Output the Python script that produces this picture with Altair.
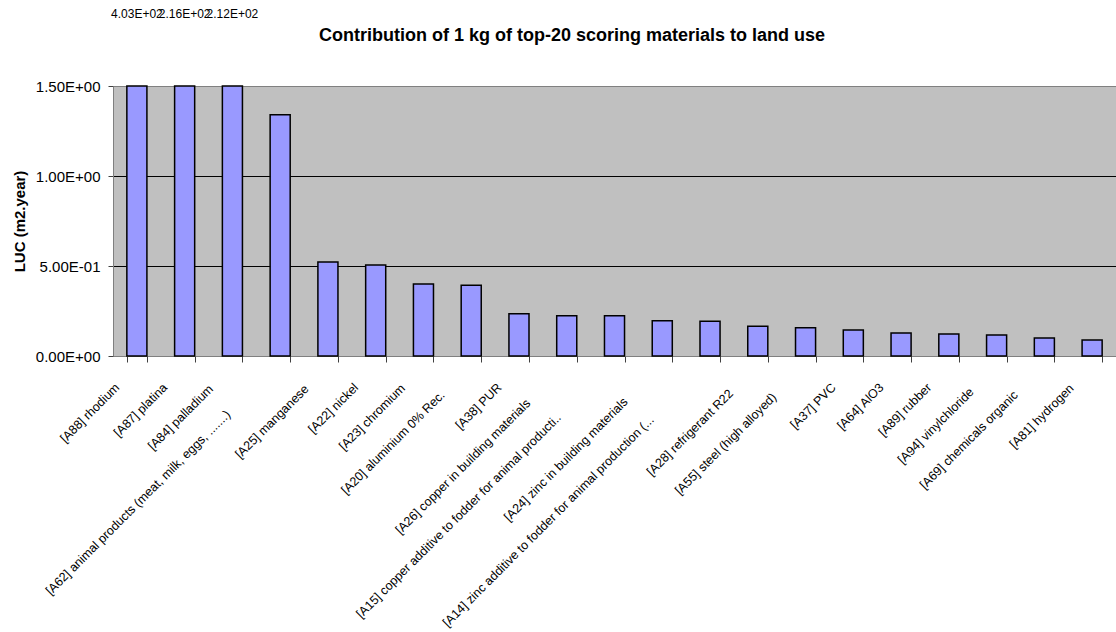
import altair as alt
import pandas as pd

chart_title = "Contribution of 1 kg of top-20 scoring materials to land use"

materials = [
    "[A88] rhodium",
    "[A87] platina",
    "[A84] palladium",
    "[A62] animal products (meat, milk, eggs, .......)",
    "[A25] manganese",
    "[A22] nickel",
    "[A23] chromium",
    "[A20] aluminium 0% Rec.",
    "[A38] PUR",
    "[A26] copper in building materials",
    "[A15] copper additive to fodder for animal producti..",
    "[A24] zinc in building materials",
    "[A14] zinc additive to fodder for animal production (...",
    "[A28] refrigerant R22",
    "[A55] steel (high alloyed)",
    "[A37] PVC",
    "[A64] AlO3",
    "[A89] rubber",
    "[A94] vinylchloride",
    "[A69] chemicals organic",
    "[A81] hydrogen",
]
luc = [403.0, 216.0, 212.0, 1.34, 0.522, 0.505, 0.40, 0.393, 0.235, 0.224,
       0.224, 0.196, 0.193, 0.165, 0.157, 0.144, 0.128, 0.122, 0.117, 0.100, 0.089]

axis_max = 1.5
y_ticks = [0.0, 0.5, 1.0, 1.5]

top_labels = [f"{v:.2E}" if v > axis_max else "" for v in luc]

df = pd.DataFrame({"material": materials, "luc": luc, "top_label": top_labels})
title_df = pd.DataFrame({"title": [chart_title]})

FONT = "Liberation Sans"

sci_expr = (
    "datum.value == 0 ? '0.00E+00' : "
    "format(datum.value / pow(10, floor(log(datum.value)/LN10)), '.2f') + 'E' + "
    "(floor(log(datum.value)/LN10) < 0 ? '-' : '+') + "
    "pad(toString(abs(floor(log(datum.value)/LN10))), 2, '0', 'left')"
)

x_enc = alt.X(
    "material:N",
    sort=None,
    title=None,
    scale=alt.Scale(paddingInner=0.58, paddingOuter=0.29),
    axis=alt.Axis(
        labelAngle=-45,
        labelAlign="right",
        labelBaseline="middle",
        labelFont=FONT,
        labelFontSize=12.5,
        labelColor="black",
        labelLimit=0,
        labelOverlap=False,
        labelOffset={"expr": "-20 - 0.9 * max(0, length(datum.label) - 13)"},
        labelPadding={"expr": "23 + 0.75 * max(0, length(datum.label) - 13)"},
        tickBand="extent",
        tickSize=6,
        tickColor="#404040",
        domainColor="#808080",
        grid=False,
    ),
)

bars = alt.Chart(df).mark_bar(
    color="#9999FF", stroke="black", strokeWidth=1.5
).encode(
    x=x_enc,
    y=alt.Y(
        "luc:Q",
        scale=alt.Scale(domain=[0, axis_max], clamp=True, nice=False),
        axis=alt.Axis(
            values=y_ticks,
            labelExpr=sci_expr,
            labelFont=FONT,
            labelFontSize=15,
            labelColor="black",
            labelPadding=8,
            tickSize=5,
            tickColor="#404040",
            domainColor="#808080",
            grid=True,
            gridColor={"condition": {"test": "datum.value >= 1.5", "value": "#808080"}, "value": "black"},
            gridWidth=1,
            title="LUC (m2.year)",
            titleFont=FONT,
            titleFontSize=15,
            titleFontWeight="bold",
            titleColor="black",
            titlePadding=8,
        ),
    ),
)

labels = alt.Chart(df).transform_filter(
    alt.datum.luc > axis_max
).mark_text(
    font=FONT, fontSize=12, color="black", baseline="middle", align="center"
).encode(
    x=alt.X("material:N", sort=None),
    y=alt.value(-72),
    text="top_label:N",
)

title_mark = alt.Chart(title_df).mark_text(
    font=FONT, fontSize=18, fontWeight="bold", color="black",
    align="center", baseline="alphabetic"
).encode(
    x=alt.value(459),
    y=alt.value(-45),
    text="title:N",
)

chart = alt.layer(bars, labels, title_mark).properties(
    width=1003,
    height=270,
    autosize=alt.AutoSizeParams(type="none"),
    padding={"left": 113, "top": 86, "right": 0, "bottom": 276},
).configure(background="white").configure_view(
    fill="#C0C0C0", stroke="#808080", strokeWidth=1
)

chart.save("out.html", embed_options={"renderer": "svg", "actions": False})
